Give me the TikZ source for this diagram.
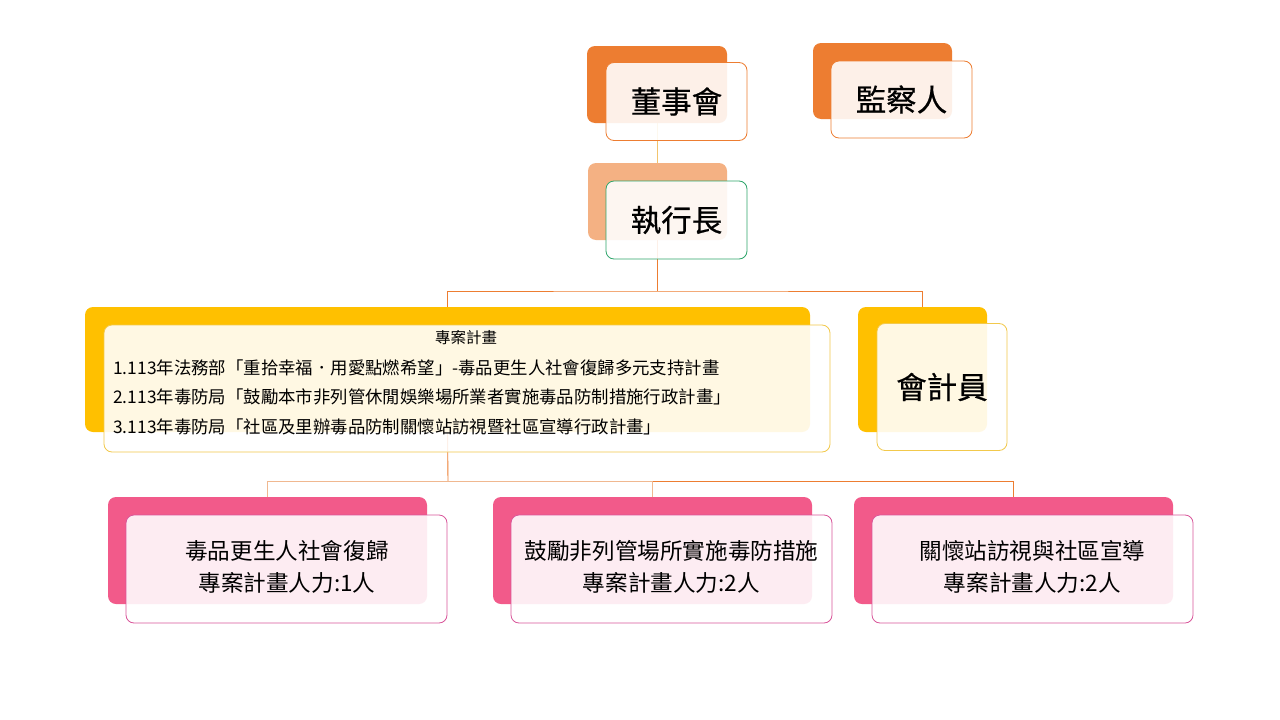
\documentclass[tikz,border=0pt]{standalone}
\usepackage{fontspec}
\setmainfont{Noto Sans CJK TC}
\newfontfamily\cjkheavy[FakeBold=0.6]{Noto Sans CJK TC}
\pgfdeclarelayer{bg}
\pgfsetlayers{bg,main}
\definecolor{cOrange}{HTML}{ED7D31}
\definecolor{cLtOrange}{HTML}{F4B183}
\definecolor{cYellow}{HTML}{FFC000}
\definecolor{cPink}{HTML}{F25A8A}
\definecolor{cPinkLine}{HTML}{D9559A}
\definecolor{cGreen}{HTML}{2EA56B}
\definecolor{cYLine}{HTML}{F2C94C}
\definecolor{cTopLine}{HTML}{F2C46D}
\definecolor{cPeach}{HTML}{F0B890}
\begin{document}
\begin{tikzpicture}[x=1pt,y=-1pt,
  backbox/.style={rectangle, rounded corners=8pt, inner sep=0pt, draw=none},
  frontbox/.style={rectangle, rounded corners=8pt, inner sep=0pt, fill=white,
    fill opacity=0.89, text opacity=1, line width=0.8pt, align=center},
  bigtxt/.style={font=\cjkheavy\fontsize{30.5}{36}\selectfont},
  midtxt/.style={font=\fontsize{22.6}{32}\selectfont},
  linetxt/.style={anchor=west, inner sep=0pt, font=\fontsize{17.4}{20}\selectfont},
  conn/.style={line width=0.9pt}
]
\useasboundingbox (0,0) rectangle (1280,720);

% 董事會
\node[backbox, fill=cOrange, minimum width=140pt, minimum height=77pt] (bDong) at (657,84.5) {};
\node[frontbox, draw=cOrange, minimum width=141pt, minimum height=78pt, bigtxt] (fDong) at (676.5,101.5) {董事會};
% 監察人
\node[backbox, fill=cOrange, minimum width=139pt, minimum height=76pt] (bJian) at (882.5,81) {};
\node[frontbox, draw=cOrange, minimum width=141pt, minimum height=77pt, bigtxt] (fJian) at (901.5,99.5) {監察人};
% 執行長
\node[backbox, fill=cLtOrange, minimum width=139pt, minimum height=77pt] (bCeo) at (657.5,201.5) {};
\node[frontbox, draw=cGreen, minimum width=141pt, minimum height=78pt, bigtxt] (fCeo) at (676.5,220) {執行長};
% 專案計畫
\node[backbox, fill=cYellow, minimum width=725pt, minimum height=125pt] (bProj) at (447.5,369.5) {};
\node[frontbox, draw=cYLine, minimum width=726pt, minimum height=127pt] (fProj) at (467,388.5) {};
\node[font=\fontsize{15.5}{18}\selectfont] (t0) at (466,338) {專案計畫};
\node[linetxt] (t1) at (113,368) {1.113年法務部「重拾幸福．用愛點燃希望」-毒品更生人社會復歸多元支持計畫};
\node[linetxt] (t2) at (113,397) {2.113年毒防局「鼓勵本市非列管休閒娛樂場所業者實施毒品防制措施行政計畫」};
\node[linetxt] (t3) at (113,427) {3.113年毒防局「社區及里辦毒品防制關懷站訪視暨社區宣導行政計畫」};
% 會計員
\node[backbox, fill=cYellow, minimum width=129pt, minimum height=125pt] (bAcc) at (922.5,369.5) {};
\node[frontbox, draw=cYLine, minimum width=130pt, minimum height=127pt, bigtxt] (fAcc) at (942,387) {會計員};
% bottom boxes
\node[backbox, fill=cPink, minimum width=319pt, minimum height=107pt] (bB1) at (267.5,550.5) {};
\node[frontbox, draw=cPinkLine, minimum width=321pt, minimum height=108pt, midtxt] (fB1) at (286.5,569) {};
\node[midtxt, align=center] (tB1) at (287,567) {毒品更生人社會復歸\\專案計畫人力:1人};
\node[backbox, fill=cPink, minimum width=319pt, minimum height=107pt] (bB2) at (652.5,550.5) {};
\node[frontbox, draw=cPinkLine, minimum width=321pt, minimum height=108pt, midtxt] (fB2) at (671.5,569) {};
\node[midtxt, align=center] (tB2) at (671.5,567) {鼓勵非列管場所實施毒防措施\\專案計畫人力:2人};
\node[backbox, fill=cPink, minimum width=319pt, minimum height=107pt] (bB3) at (1013.5,550.5) {};
\node[frontbox, draw=cPinkLine, minimum width=321pt, minimum height=108pt, midtxt] (fB3) at (1032.5,569) {};
\node[midtxt, align=center] (tB3) at (1032.5,567) {關懷站訪視與社區宣導\\專案計畫人力:2人};

\coordinate (bus1) at (657,291);
\coordinate (bus2) at (448,481);
\begin{pgfonlayer}{bg}
\fill[white] (0,0) rectangle (1280,720);
\draw[conn, cTopLine] (bDong.south) -- (bDong.south |- bCeo.north);
\draw[conn, cOrange] (bCeo.south) -- (bCeo.south |- bus1);
\draw[conn, cOrange] (bProj.north) |- (bus1) -| (bAcc.north);
\draw[conn, cOrange] (bProj.south) -- (bus2);
\draw[conn, cPeach] (bB1.north) |- (bB2.north |- bus2) -- (bB2.north);
\draw[conn, cOrange] (bB2.north |- bus2) -| (bB3.north);
\end{pgfonlayer}
\end{tikzpicture}
\end{document}
